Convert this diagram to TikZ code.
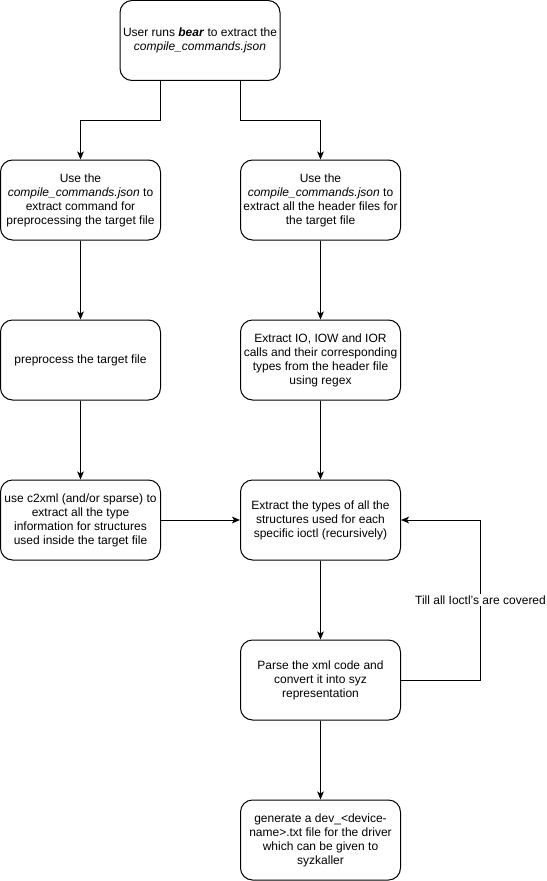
\documentclass[tikz,border=0pt]{standalone}
\usepackage{fontspec}
\setmainfont{Liberation Sans}
\usetikzlibrary{arrows.meta}
\begin{document}
\begin{tikzpicture}[x=0.75pt,y=-0.75pt,
  box/.style={draw,line width=0.75pt,rounded corners=9pt,minimum width=120pt,minimum height=60pt,align=center,font=\fontsize{9}{10.5}\selectfont,inner sep=1pt},
  conn/.style={draw,line width=0.75pt,-{Stealth[length=6pt,width=5pt,inset=1.5pt]}},
  lbl/.style={fill=white,font=\fontsize{9}{10.5}\selectfont,inner sep=1pt}]
\useasboundingbox (0,0) rectangle (546,881);
\node[box] (top) at (200,40.5) {User runs \textbf{\textit{bear}} to extract the\\\textit{compile\_commands.json}};
\node[box] (l1) at (80.5,200) {Use the\\\textit{compile\_commands.json} to\\extract command for\\preprocessing the target file};
\node[box] (r1) at (320.5,200) {Use the\\\textit{compile\_commands.json} to\\extract all the header files for\\the target file};
\node[box] (l2) at (80.5,360) {preprocess the target file};
\node[box] (r2) at (320.5,360) {Extract IO, IOW and IOR\\calls and their corresponding\\types from the header file\\using regex};
\node[box] (l3) at (80.5,520) {use c2xml (and/or sparse) to\\extract all the type\\information for structures\\used inside the target file};
\node[box] (r3) at (320.5,520) {Extract the types of all the\\structures used for each\\specific ioctl (recursively)};
\node[box] (r4) at (320.5,680) {Parse the xml code and\\convert it into syz\\representation};
\node[box] (r5) at (320.5,840) {generate a dev\_<device-\\name>.txt file for the driver\\which can be given to\\syzkaller};
\coordinate (tl) at (160.5,80.5);
\coordinate (tr) at (240.5,80.5);
\draw[conn] (tl) |- (80.5,120.5) -- (l1.north);
\draw[conn] (tr) |- (320.5,120.5) -- (r1.north);
\draw[conn] (l1) -- (l2);
\draw[conn] (r1) -- (r2);
\draw[conn] (l2) -- (l3);
\draw[conn] (r2) -- (r3);
\draw[conn] (l3) -- (r3);
\draw[conn] (r3) -- (r4);
\draw[conn] (r4) -- (r5);
\coordinate (lp) at (480.5,600);
\draw[conn] (r4.east) -| (lp) |- (r3.east);
\node[lbl] (loop) at (lp) {Till all Ioctl's are covered};
\end{tikzpicture}
\end{document}
